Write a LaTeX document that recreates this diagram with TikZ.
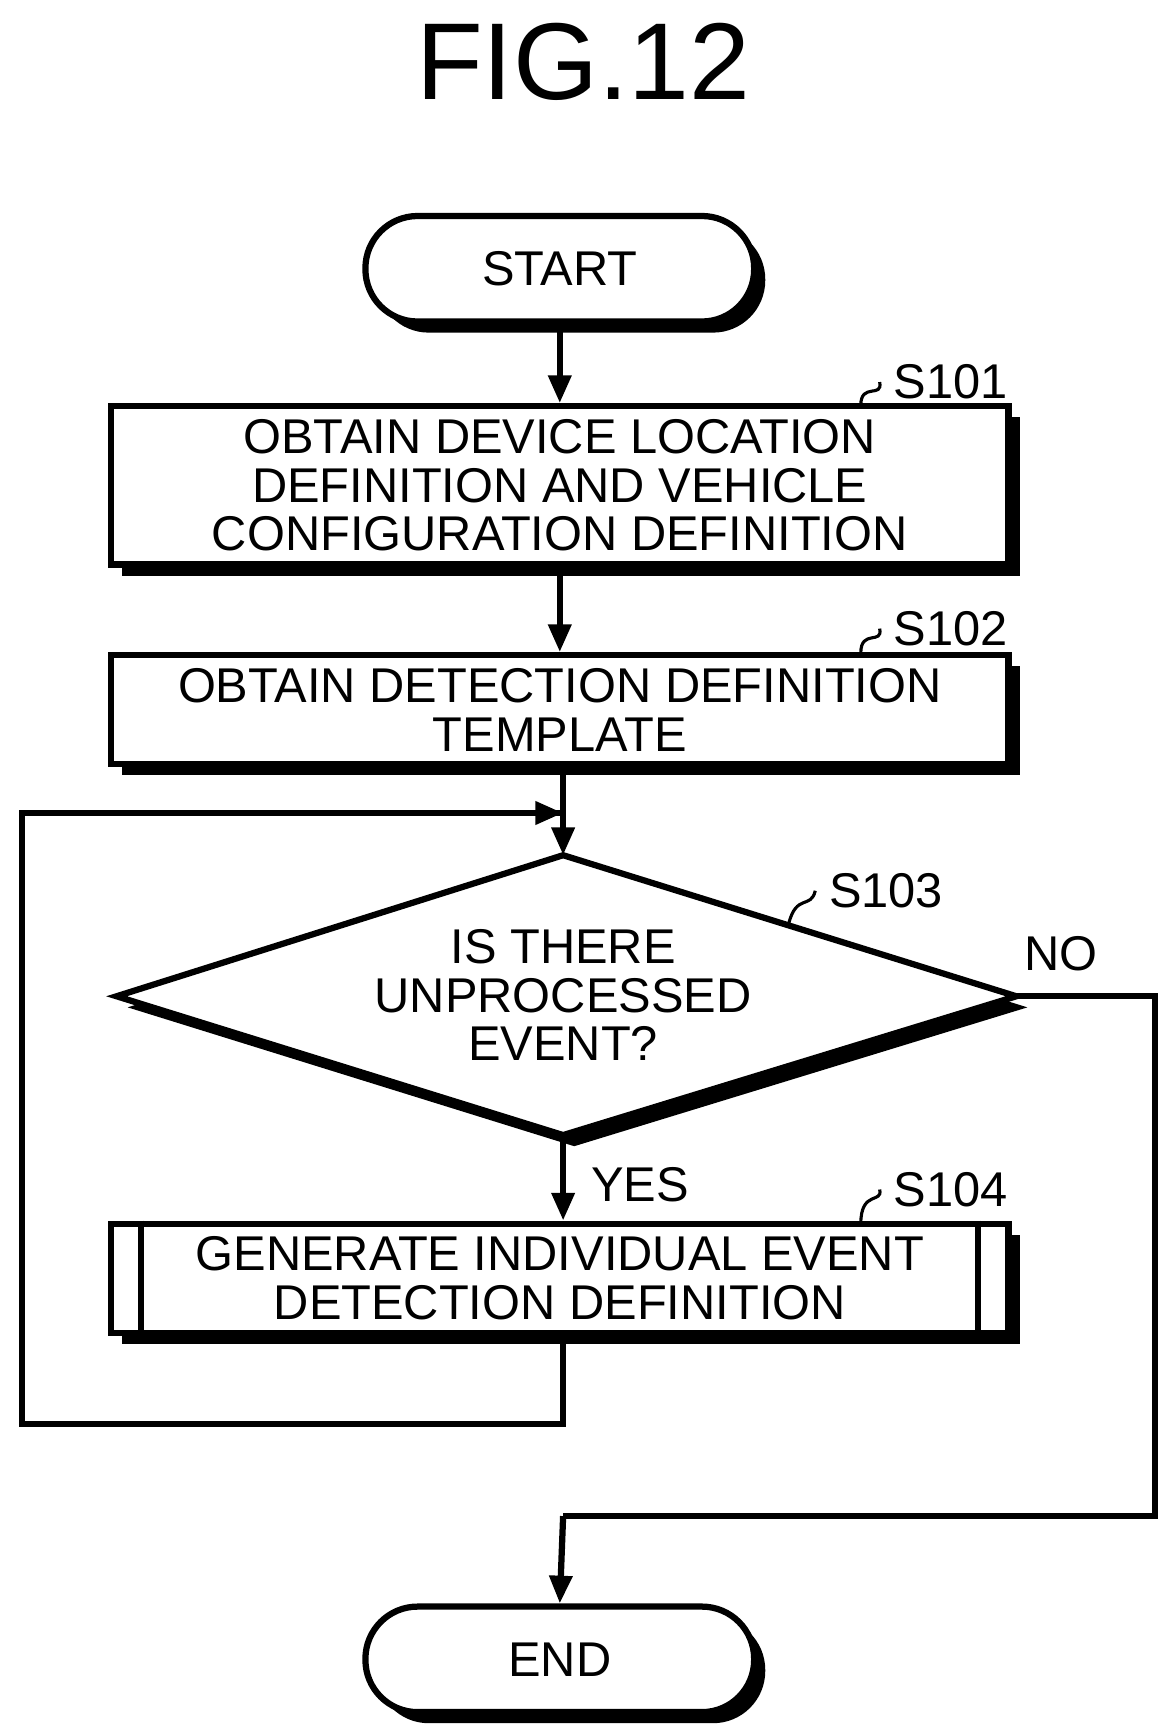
\documentclass[tikz,border=0pt]{standalone}
\usepackage{fontspec}
\setmainfont{Liberation Sans}
\usetikzlibrary{shapes.geometric,shadows,arrows.meta,positioning}
\tikzset{
  shad/.style={drop shadow={shadow xshift=0.1cm,shadow yshift=-0.1cm,opacity=1,fill=black}},
  term/.style={draw,line width=1.6pt,fill=white,rounded corners=0.47cm,minimum width=3.5cm,minimum height=0.95cm,shad,font=\fontsize{12.5}{14}\selectfont},
  proc/.style={draw,line width=1.6pt,fill=white,minimum width=8.08cm,align=center,shad,font=\fontsize{12.5}{12.5}\selectfont},
  flow/.style={line width=1.6pt,-{Triangle[length=0.25cm,width=0.2cm]}},
  line/.style={line width=1.6pt},
  steplab/.style={font=\fontsize{12.5}{14}\selectfont,anchor=west},
}
\begin{document}
\begin{tikzpicture}
\useasboundingbox (0,0) rectangle (10.52,15.54);
\node (title) at (5.25,14.98) {\fontsize{28}{30}\selectfont FIG.12};

\node[term] (start) at (5.04,13.12) {START};
\node[proc,minimum height=1.4cm] (s101) at (5.04,11.17) {OBTAIN DEVICE LOCATION\\DEFINITION AND VEHICLE\\CONFIGURATION DEFINITION};
\node[proc,minimum height=0.98cm] (s102) at (5.04,9.15) {OBTAIN DETECTION DEFINITION\\TEMPLATE};
% decision
\coordinate (dn) at (5.07,7.84);
\coordinate (ds) at (5.07,5.32);
\coordinate (dw) at (1.05,6.57);
\coordinate (de) at (9.15,6.57);
\fill ([shift={(0.1,-0.1)}]dn) -- ([shift={(0.1,-0.1)}]de) -- ([shift={(0.1,-0.1)}]ds) -- ([shift={(0.1,-0.1)}]dw) -- cycle;
\draw[line,fill=white] (dn) -- (de) -- (ds) -- (dw) -- cycle;
\node[align=center,font=\fontsize{12.5}{12.5}\selectfont] (s103) at (5.07,6.58) {IS THERE\\UNPROCESSED\\EVENT?};
\node[proc,minimum height=0.97cm] (s104) at (5.04,4.03) {GENERATE INDIVIDUAL EVENT\\DETECTION DEFINITION};
\draw[line] ([xshift=0.3cm]s104.north west) -- ([xshift=0.3cm]s104.south west);
\draw[line] ([xshift=-0.3cm]s104.north east) -- ([xshift=-0.3cm]s104.south east);
\node[term] (end) at (5.04,0.6) {END};

% step labels
\node[steplab] (l101) at (7.92,12.1) {S101};
\draw[line width=0.8pt] (7.75,11.89) .. controls (7.75,12.1) and (7.95,11.95) .. (l101.west);
\node[steplab] (l102) at (7.92,9.88) {S102};
\draw[line width=0.8pt] (7.75,9.66) .. controls (7.75,9.88) and (7.95,9.73) .. (l102.west);
\node[steplab] (l103) at (7.34,7.52) {S103};
\draw[line width=0.8pt] (7.1,7.22) .. controls (7.17,7.5) and (7.3,7.35) .. (l103.west);
\node[steplab] (l104) at (7.92,4.83) {S104};
\draw[line width=0.8pt] (7.75,4.52) .. controls (7.75,4.83) and (7.95,4.7) .. (l104.west);
\node[steplab] (yes) at (5.2,4.87) {YES};
\node[steplab] (no) at (9.1,6.95) {NO};

\coordinate (join) at (5.07,8.22);
\draw[flow] (start) -- (s101);
\draw[flow] (s101) -- (s102);
\draw[flow] (s102.south -| dn) -- (dn);
\draw[flow] (ds) -- (s104.north -| ds);
\draw[line] (s104.south -| ds) |- (0.2,2.72) |- (join) ;
\draw[flow] (0.2,8.22) -- (join);
\draw[line] (de) -- (10.4,6.57) |- (5.07,1.89);
\draw[flow] (5.07,1.89) -- (end.north);
\end{tikzpicture}
\end{document}
